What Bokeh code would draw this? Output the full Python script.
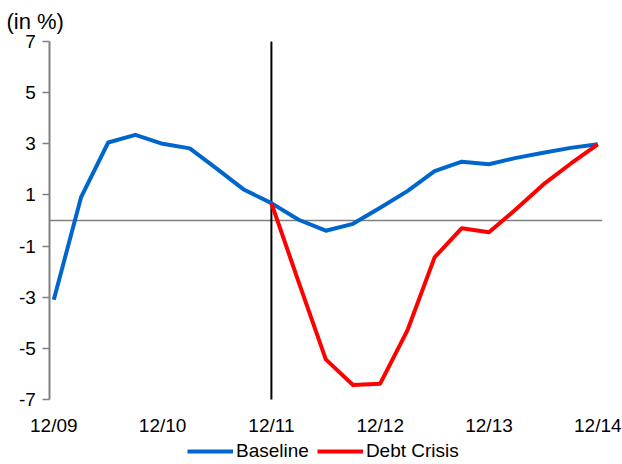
from bokeh.plotting import figure
from bokeh.models import Range1d, FixedTicker, Legend, LegendItem, Label
from bokeh.embed import file_html
from bokeh.resources import INLINE

# Quarterly growth path, in percent
quarters = ["12/09", "03/10", "06/10", "09/10", "12/10", "03/11", "06/11",
            "09/11", "12/11", "03/12", "06/12", "09/12", "12/12", "03/13",
            "06/13", "09/13", "12/13", "03/14", "06/14", "09/14", "12/14"]
baseline = [-3.1, 0.9, 3.05, 3.35, 3.0, 2.82, 2.02, 1.2, 0.68, 0.03, -0.4,
            -0.13, 0.5, 1.15, 1.93, 2.3, 2.2, 2.45, 2.65, 2.84, 2.98]
crisis_start = "12/11"
debt_crisis = [0.68, -2.4, -5.43, -6.43, -6.38, -4.3, -1.44, -0.3, -0.46,
               0.45, 1.41, 2.22, 2.98]
y_ticks = [-7, -5, -3, -1, 1, 3, 5, 7]
year_labels = [q for q in quarters if q.startswith("12/")]

FONT = "Liberation Sans"
BLUE = "#0066CC"
RED = "#FF0000"
GREY = "#808080"

# Layout: the drawing area covers the whole canvas; the axes are pinned
# inside it so that labels and legend have room around the value band.
W, H = 622, 464
BAND_TOP_PX, BAND_BOTTOM_PX = 41, 399      # pixel rows of y = 7 and y = -7
FIRST_X_PX, STEP_PX = 53.3, 27.2           # pixel column of first quarter, quarter width
AXIS_X_PX, RIGHT_X_PX = 49.3, 601.7        # y-axis column, right end of zero line

y_lo, y_hi = y_ticks[0], y_ticks[-1]
ppu = (BAND_BOTTOM_PX - BAND_TOP_PX) / (y_hi - y_lo)
y_range = Range1d(y_lo - (H - BAND_BOTTOM_PX) / ppu, y_hi + BAND_TOP_PX / ppu)
x_range = Range1d(-FIRST_X_PX / STEP_PX, (W - FIRST_X_PX) / STEP_PX)
x_axis_pos = (AXIS_X_PX - FIRST_X_PX) / STEP_PX
x_right = (RIGHT_X_PX - FIRST_X_PX) / STEP_PX

x_base = list(range(len(quarters)))
i0 = quarters.index(crisis_start)
x_crisis = list(range(i0, i0 + len(debt_crisis)))

p = figure(width=W, height=H, output_backend="svg", toolbar_location=None,
           x_range=x_range, y_range=y_range,
           min_border_left=0, min_border_right=0,
           min_border_top=0, min_border_bottom=0)
p.outline_line_color = None
p.xgrid.visible = False
p.ygrid.visible = False
p.background_fill_color = "white"
p.border_fill_color = "white"

# y axis, limited to the -7..7 band
ya = p.yaxis[0]
ya.fixed_location = x_axis_pos
ya.bounds = (y_lo, y_hi)
ya.ticker = FixedTicker(ticks=y_ticks)
ya.major_label_overrides = {t: str(t) for t in y_ticks}
ya.axis_line_color = GREY
ya.axis_line_width = 2
ya.major_tick_line_color = GREY
ya.major_tick_line_width = 1.5
ya.major_tick_out = 7
ya.major_tick_in = 0
ya.minor_tick_line_color = None
ya.major_label_standoff = 7
ya.major_label_text_font = FONT
ya.major_label_text_font_size = "19px"
ya.major_label_text_color = "black"

# x axis along the bottom of the band: year-end labels only
xa = p.xaxis[0]
xa.fixed_location = y_lo
tick_pos = [quarters.index(q) for q in year_labels]
xa.ticker = FixedTicker(ticks=tick_pos)
xa.major_label_overrides = {i: quarters[i] for i in tick_pos}
xa.axis_line_color = None
xa.major_tick_line_color = None
xa.minor_tick_line_color = None
xa.major_tick_out = 0
xa.major_tick_in = 0
xa.major_label_standoff = 15
xa.major_label_text_font = FONT
xa.major_label_text_font_size = "19px"
xa.major_label_text_color = "black"

# reference lines: zero and crisis onset
p.segment(x0=[x_axis_pos], y0=[0], x1=[x_right], y1=[0], line_color=GREY, line_width=1.5)
p.segment(x0=[i0], y0=[y_lo], x1=[i0], y1=[y_hi], line_color="black", line_width=2)

r_base = p.line(x_base, baseline, line_color=BLUE, line_width=4, line_join="round")
r_crisis = p.line(x_crisis, debt_crisis, line_color=RED, line_width=4, line_join="round")

legend = Legend(items=[LegendItem(label="Baseline", renderers=[r_base]),
                       LegendItem(label="Debt Crisis", renderers=[r_crisis])],
                orientation="horizontal", location=(187, 2),
                glyph_width=46, glyph_height=20, label_height=20,
                label_standoff=3, spacing=8, padding=0, margin=0,
                border_line_color=None, background_fill_alpha=0,
                label_text_font=FONT, label_text_font_size="19px",
                label_text_color="black")
p.add_layout(legend, "center")

# unit note in the top-left corner
p.add_layout(Label(x=6, y=H - 21, x_units="screen", y_units="screen",
                   text="(in %)", text_font=FONT, text_font_size="22px",
                   text_color="black", text_baseline="alphabetic"))

open("out.html", "w").write(file_html(p, INLINE))
